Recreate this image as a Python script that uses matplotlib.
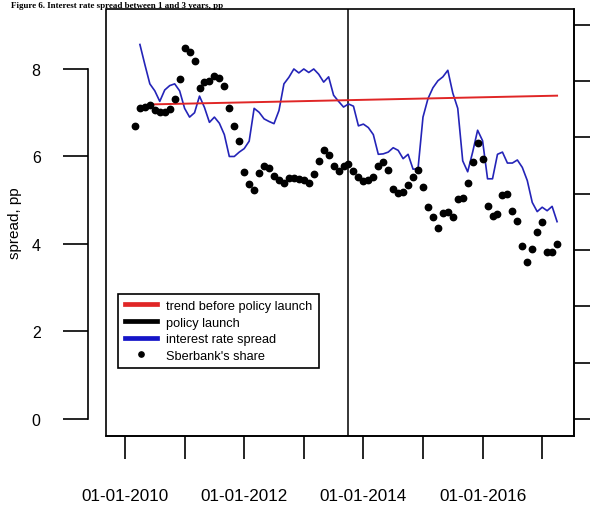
import matplotlib
matplotlib.use('Agg')
import matplotlib.pyplot as plt
from matplotlib.lines import Line2D
from matplotlib.patches import Rectangle

# ---------------- data ----------------
# interest rate spread, pp (left axis), monthly from April 2010
spread_start = 2010.25
spread_values = [
    8.56, 8.10, 7.66, 7.50, 7.26, 7.52, 7.62, 7.66, 7.50, 7.10,
    6.90, 7.00, 7.38, 7.12, 6.78, 6.90, 6.76, 6.50, 6.00, 6.00,
    6.10, 6.18, 6.35, 7.10, 7.01, 6.86, 6.80, 6.75, 7.05, 7.66,
    7.81, 8.00, 7.91, 8.00, 7.92, 8.00, 7.88, 7.70, 7.82, 7.40,
    7.26, 7.13, 7.20, 7.15, 6.70, 6.74, 6.66, 6.50, 6.05, 6.06,
    6.10, 6.20, 6.14, 5.95, 6.05, 5.71, 5.72, 6.90, 7.32, 7.57,
    7.73, 7.82, 7.97, 7.45, 7.10, 5.90, 5.65, 6.10, 6.60, 6.36,
    5.49, 5.49, 6.05, 6.10, 5.85, 5.85, 5.92, 5.75, 5.45, 4.95,
    4.74, 4.84, 4.76, 4.86, 4.51,
]
# Sberbank's share (right axis units), monthly from March 2010
share_start = 2010.1667
share_values = [
    5.21, 5.52, 5.55, 5.58, 5.49, 5.45, 5.45, 5.51, 5.68, 6.03,
    6.59, 6.51, 6.36, 5.87, 5.99, 6.00, 6.10, 6.05, 5.91, 5.52,
    5.21, 4.93, 4.39, 4.17, 4.07, 4.37, 4.50, 4.45, 4.32, 4.25,
    4.20, 4.28, 4.28, 4.26, 4.25, 4.20, 4.35, 4.59, 4.77, 4.68,
    4.50, 4.41, 4.50, 4.53, 4.41, 4.30, 4.23, 4.25, 4.30, 4.50,
    4.57, 4.43, 4.09, 4.01, 4.03, 4.16, 4.29, 4.43, 4.12, 3.77,
    3.58, 3.39, 3.66, 3.68, 3.58, 3.90, 3.93, 4.19, 4.56, 4.90,
    4.62, 3.78, 3.61, 3.64, 3.98, 4.00, 3.69, 3.52, 3.08, 2.79,
    3.02, 3.33, 3.50, 2.96, 2.97, 3.10,
]
# trend before policy launch (end points)
trend_x = [2010.42, 2017.25]
trend_y = [7.19, 7.39]
# policy launch
policy_x = 2013.75

x_ticks = [2010, 2011, 2012, 2013, 2014, 2015, 2016, 2017]
x_labels = ["01-01-2010", "", "01-01-2012", "", "01-01-2014", "", "01-01-2016", ""]
left_ticks = [0, 2, 4, 6, 8]
right_ticks = [0, 1, 2, 3, 4, 5, 6, 7]

legend_labels = ["trend before policy launch", "policy launch",
                 "interest rate spread", "Sberbank's share"]
ylabel = "spread, pp"
title = "Figure 6. Interest rate spread between 1 and 3 years, pp"

# ---------------- figure ----------------
W, H = 590, 510
fig = plt.figure(figsize=(W / 100, H / 100), dpi=100)
plt.rcParams['font.family'] = ['Liberation Sans', 'DejaVu Sans']

ax = fig.add_axes([106 / W, 1 - 437 / H, (574 - 106) / W, (437 - 10) / H])
ax2 = ax.twinx()

spread_x = [spread_start + i / 12 for i in range(len(spread_values))]
share_x = [share_start + i / 12 for i in range(len(share_values))]

blue = '#2424b8'
red = '#e02626'

ax.plot(spread_x, spread_values, color=blue, lw=1.2, zorder=3)
ax.plot(trend_x, trend_y, color=red, lw=1.4, zorder=3)
ax.axvline(policy_x, color='black', lw=1.1, zorder=2)
ax2.plot(share_x, share_values, 'o', color='black', ms=4.6, zorder=4)

ax.set_xlim(2009.681, 2017.534)
ax.set_ylim(-0.389, 9.371)
ax2.set_ylim(-0.302, 7.282)

ax.set_xticks(x_ticks)
ax.set_xticklabels(x_labels)
ax.set_yticks(left_ticks)
ax.set_yticklabels([str(t) for t in left_ticks], rotation=90, va='center')
ax2.set_yticks(right_ticks)
ax2.set_yticklabels([])

for a in (ax, ax2):
    for s in a.spines.values():
        s.set_linewidth(1.2)
ax.spines['top'].set_visible(False)
ax.spines['right'].set_visible(False)
ax2.spines['top'].set_visible(False)
ax2.spines['left'].set_visible(False)
ax2.spines['bottom'].set_visible(False)
ax.spines['left'].set_position(('outward', 13))
ax.spines['left'].set_bounds(0, 8)

ax.tick_params(axis='y', direction='out', length=18, width=1.2,
               pad=16, labelsize=11.5)
ax.tick_params(axis='x', direction='out', length=16.5, width=1.2,
               pad=21, labelsize=12.3)
ax2.tick_params(axis='y', direction='out', length=14, width=1.2)

ax.add_patch(Rectangle((0, 0), 1, 1, transform=ax.transAxes, fill=False,
                       lw=1.2, edgecolor='black', clip_on=False, zorder=5))

ax.set_ylabel(ylabel, fontsize=11, labelpad=7)

handles = [
    Line2D([], [], color=red, lw=3.4),
    Line2D([], [], color='black', lw=3.4),
    Line2D([], [], color='#1515c8', lw=3.4),
    Line2D([], [], color='black', marker='o', ls='none', ms=3.8),
]
leg = ax.legend(handles, legend_labels, loc='lower left',
                bbox_to_anchor=(0.026, 0.159), fontsize=9.2,
                frameon=True, fancybox=False, edgecolor='black',
                framealpha=1, borderpad=0.5, labelspacing=0.36,
                handlelength=2.5, handletextpad=0.75, borderaxespad=0)
leg.get_frame().set_linewidth(1.2)

fig.text(11 / W, 1 - 8 / H, title, fontsize=6.5, fontweight='bold',
         family='Liberation Serif', ha='left', va='baseline')

fig.savefig('out.png', dpi=100)
